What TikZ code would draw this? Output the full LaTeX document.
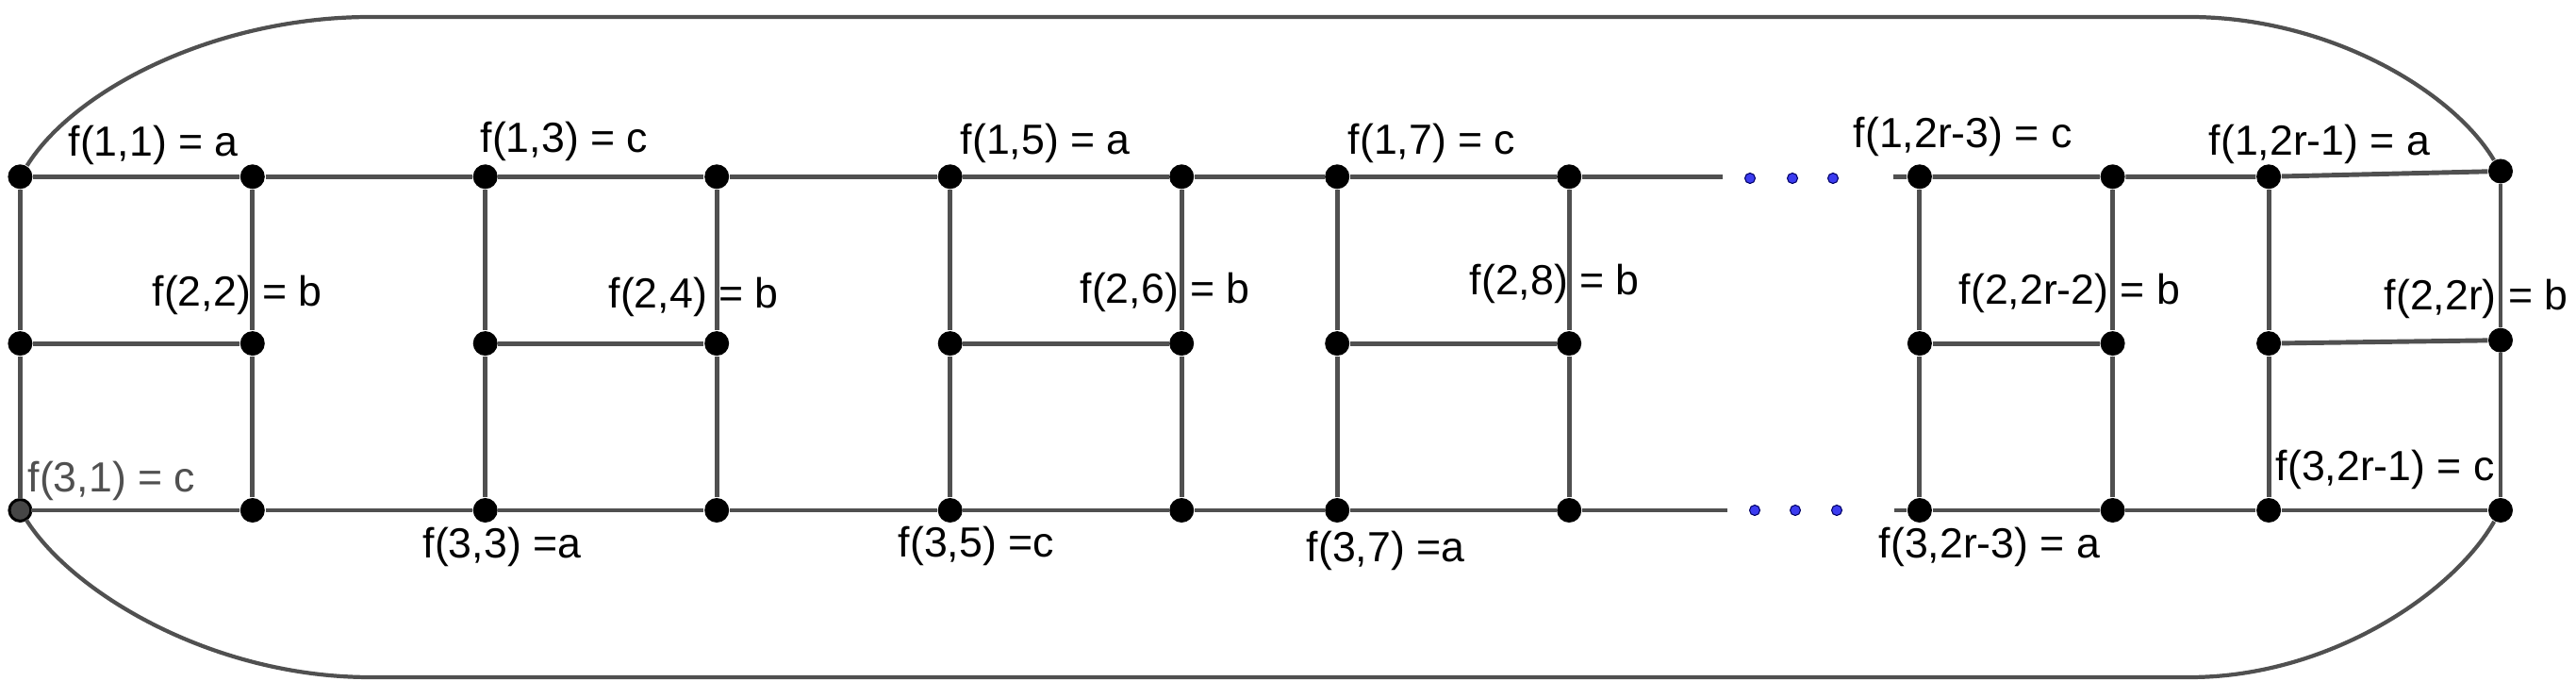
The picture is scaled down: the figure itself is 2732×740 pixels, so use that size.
\documentclass[tikz,border=0pt]{standalone}
\usepackage{fontspec}
\setmainfont{Liberation Sans}
\usepackage{tikz}

\definecolor{edgegray}{RGB}{80,80,80}
\definecolor{dotblue}{RGB}{60,60,240}
\definecolor{labelgray}{RGB}{80,80,80}
\definecolor{darkdot}{RGB}{70,70,70}

\tikzset{
  vtx/.style={circle, fill=black, inner sep=0pt, minimum size=0.26cm},
  gapdot/.style={circle, fill=dotblue, draw=blue!40!black, line width=0.3pt,
    inner sep=0pt, minimum size=0.11cm},
  lbl/.style={anchor=base west, inner sep=0pt, font=\fontsize{12.7}{15}\selectfont},
  edge/.style={color=edgegray, line width=1.4pt},
}

\begin{document}
\begin{tikzpicture}[x=0.01cm, y=-0.01cm]
    \useasboundingbox (0,0) rectangle (2732,740);

    % the vertices
    \foreach \i/\x in {1/21.4, 2/267.8, 3/514.7, 4/760.2, 5/1007.7, 6/1253.2,
        7/1418.2, 8/1664.2, 9/2035.9, 10/2240.6, 11/2406.1} {
      \node [vtx] (t\i) at (\x,187.3) {};
      \node [vtx] (m\i) at (\x,364.1) {};
      \node [vtx] (b\i) at (\x,541) {};
    }
    \node [vtx] (t12) at (2652,181.5) {};
    \node [vtx] (m12) at (2652,360.7) {};
    \node [vtx] (b12) at (2652,541) {};
    \node [vtx, fill=darkdot, draw=black, line width=0.6pt, minimum size=0.22cm] (b1) at (21.4,541) {};

    \coordinate (tgapl) at (1827,187.3);
    \coordinate (tgapr) at (2008,187.3);
    \coordinate (bgapl) at (1832,541);
    \coordinate (bgapr) at (2009,541);

    % rows
    \draw [edge] (t1) -- (t2) -- (t3) -- (t4) -- (t5) -- (t6) -- (t7) -- (t8) -- (tgapl);
    \draw [edge] (tgapr) -- (t9) -- (t10) -- (t11) -- (t12);
    \draw [edge] (b1) -- (b2) -- (b3) -- (b4) -- (b5) -- (b6) -- (b7) -- (b8) -- (bgapl);
    \draw [edge] (bgapr) -- (b9) -- (b10) -- (b11) -- (b12);
    \foreach \i/\j in {1/2, 3/4, 5/6, 7/8, 9/10, 11/12}
      \draw [edge] (m\i) -- (m\j);

    % columns
    \foreach \i in {1,...,12}
      \draw [edge] (t\i) -- (m\i) -- (b\i);

    % outer curve
    \coordinate (ul) at (393,18);
    \coordinate (ur) at (2322,18);
    \coordinate (ll) at (393,718);
    \coordinate (lr) at (2322,718);
    \draw [edge, line width=1.2pt] (t1) .. controls (78,96) and (227,18) .. (ul)
      -- (ur) .. controls (2469,18) and (2601,96) .. (t12);
    \draw [edge, line width=1.2pt] (b1) .. controls (78,630) and (227,718) .. (ll)
      -- (lr) .. controls (2469,718) and (2601,630) .. (b12);

    % the gaps
    \node [gapdot] (d1) at (1856,189) {};
    \node [gapdot] (d2) at (1901,189) {};
    \node [gapdot] (d3) at (1944,189) {};
    \node [gapdot] (d4) at (1861,541) {};
    \node [gapdot] (d5) at (1904,541) {};
    \node [gapdot] (d6) at (1948,541) {};

    % labels
    \node [lbl] (l11) at (72,166) {f(1,1) = a};
    \node [lbl] (l13) at (509,162) {f(1,3) = c};
    \node [lbl] (l15) at (1018,164) {f(1,5) = a};
    \node [lbl] (l17) at (1429,164) {f(1,7) = c};
    \node [lbl] (l1r3) at (1965,157) {f(1,2r-3) = c};
    \node [lbl] (l1r1) at (2342,165) {f(1,2r-1) = a};

    \node [lbl] (l22) at (161,325) {f(2,2) = b};
    \node [lbl] (l24) at (645,327) {f(2,4) = b};
    \node [lbl] (l26) at (1145,322) {f(2,6) = b};
    \node [lbl] (l28) at (1558,313) {f(2,8) = b};
    \node [lbl] (l2r2) at (2077,323) {f(2,2r-2) = b};
    \node [lbl] (l2r) at (2528,329) {f(2,2r) = b};

    \node [lbl, text=labelgray] (l31) at (29,522) {f(3,1) = c};
    \node [lbl] (l33) at (448,592) {f(3,3) =a};
    \node [lbl] (l35) at (952,591) {f(3,5) =c};
    \node [lbl] (l37) at (1385,596) {f(3,7) =a};
    \node [lbl] (l3r3) at (1992,592) {f(3,2r-3) = a};
    \node [lbl] (l3r1) at (2413,510) {f(3,2r-1) = c};
\end{tikzpicture}
\end{document}
